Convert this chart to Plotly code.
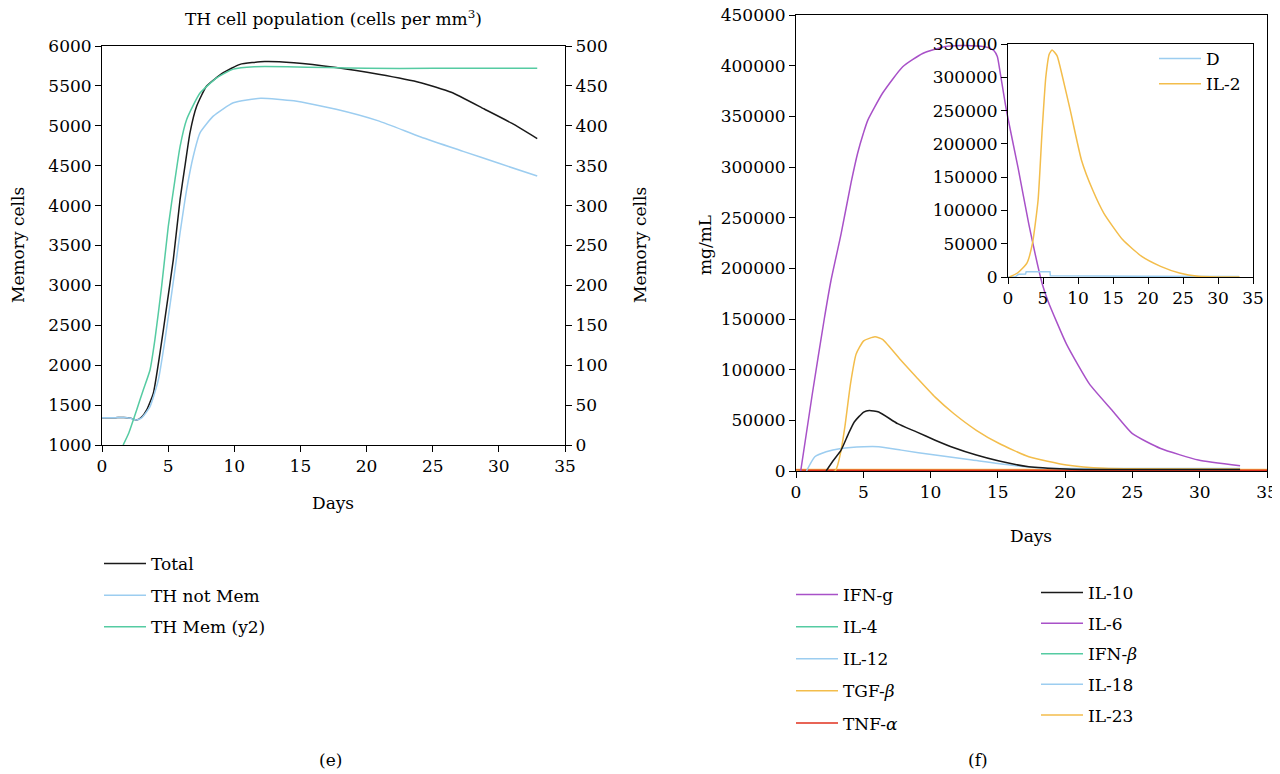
import plotly.graph_objects as go

# ---- panel (e): TH cell population ----
total_days = [0, 1.0, 1.9, 2.1, 2.3, 2.62, 3.0, 3.38, 3.88, 4.38, 4.89, 5.39, 5.9, 6.27, 6.65, 7.16, 7.91,
              9.17, 10.43, 12.3, 14.5, 17.7, 20.9, 24.1, 26.4, 28.9, 31.0, 32.9]
total = [1343, 1343, 1343, 1340, 1328, 1314, 1350, 1439, 1649, 2150, 2736, 3322, 4075, 4494, 4912, 5247,
         5498, 5665, 5770, 5805, 5790, 5730, 5645, 5540, 5420, 5210, 5030, 4840]

notmem_days = [0, 1.0, 1.9, 2.1, 2.3, 2.62, 3.0, 3.63, 4.26, 4.76, 5.27, 5.9, 6.4, 6.9, 7.41, 8.41, 9.93,
               12.0, 14.5, 17.7, 20.9, 24.1, 27.3, 30.0, 32.9]
notmem = [1343, 1343, 1343, 1338, 1325, 1314, 1340, 1481, 1816, 2318, 2904, 3657, 4201, 4619, 4912, 5121,
          5289, 5345, 5313, 5208, 5062, 4860, 4680, 4530, 4370]

mem_days = [1.6, 2.0, 2.62, 3.1, 3.63, 4.0, 4.51, 5.01, 5.52, 5.9, 6.4, 7.41, 8.67, 9.93, 11.5, 14, 17,
            20, 25, 30, 32.9]
mem = [0, 14, 44, 68, 94, 132, 199, 274, 333, 374, 408, 441, 460, 471, 474, 474, 473, 472, 472, 472, 472]

# ---- panel (f): cytokines ----
ifng_days = [0.35, 1.2, 2.1, 2.6, 3.35, 4.1, 4.58, 5.0, 5.33, 6.44, 7.93, 9.41, 11.1, 12.3, 13.5, 14.26,
             14.7, 14.96, 15.2, 15.65, 16.5, 17.3, 18.3, 18.73, 20.1, 21.8, 23.5, 25.0, 27.1, 29.9, 33.0]
ifng = [0, 75000, 150000, 188000, 234000, 285000, 313600, 333000, 346000, 373000, 399000, 412000, 419000,
        420000, 419500, 418000, 415000, 409000, 391000, 355000, 299300, 243600, 184600, 167600, 125200,
        86000, 59800, 36900, 22200, 10800, 5200]

il10_days = [2.24, 2.8, 3.35, 3.9, 4.33, 5.03, 5.45, 6.15, 7.55, 8.95, 10.34, 11.74, 13.4, 15.1, 17.3,
             20.1, 22, 33]
il10 = [0, 10800, 20600, 36900, 48400, 58200, 59800, 58200, 46700, 38600, 30400, 22900, 15700, 9800,
        4200, 2000, 1500, 1500]

tgfb_days = [0, 2.9, 3.35, 3.63, 4.05, 4.47, 5.03, 5.87, 6.43, 7.83, 8.95, 10.34, 11.74, 13.4, 15.1,
             17.3, 20.1, 22.9, 33]
tgfb = [0, 0, 20600, 43500, 86000, 115400, 128400, 132400, 130000, 108800, 92500, 72900, 56500, 40200,
        27100, 14000, 5900, 2600, 2000]

il12_days = [0.78, 1.4, 2.24, 3.35, 5.03, 6.15, 7.83, 10.34, 13.1, 15.9, 18.7, 22, 33]
il12 = [0, 14000, 19000, 22200, 23900, 23900, 20600, 15700, 10800, 5900, 2600, 2500, 2500]

flat_days = [0, 35]
il4 = [0, 0]
tnfa = [800, 800]
il6 = [0, 0]
ifnb = [0, 0]
il18 = [0, 0]
il23 = [1500, 1500]

# inset
il2_days = [0.2, 1.35, 2.7, 3.5, 4.3, 4.85, 5.4, 5.9, 6.3, 7.0, 7.8, 8.9, 10.5, 12.1, 13.7, 16.4, 19.1,
            21.8, 24.5, 27.2, 29.9, 33.1]
il2 = [0, 6000, 20900, 50800, 115700, 215400, 300100, 335000, 341000, 332500, 300000, 250200, 175500,
       130600, 95700, 55800, 30900, 16000, 6000, 1000, 0, 0]
d_days = [0, 1.0, 1.5, 2.2, 2.5, 2.6, 6.0, 6.05, 10, 20, 33]
d_vals = [0, 0, 4000, 4500, 4500, 8000, 8000, 2000, 1500, 1000, 800]

BLACK = '#1a1a1a'
LBLUE = '#9ccdf0'
GREEN = '#55cba2'
PURPLE = '#a851c8'
YELLOW = '#f3bd4b'
RED = '#e0301e'
FONT = 'DejaVu Serif'
FS = 17

# page has an 8px body margin, so the figure is a bit smaller and coords shifted
OFF = 8
W, H = 1280 - OFF, 774 - OFF


def px(x):
    return (x - OFF) / W


def py(y):
    return 1 - (y - OFF) / H


fig = go.Figure()


def add(x, y, name, color, xa, ya, legend, rank, shape='spline'):
    fig.add_trace(go.Scatter(x=x, y=y, name=name, mode='lines',
                             line=dict(color=color, width=1.5, shape=shape, smoothing=0.5),
                             xaxis=xa, yaxis=ya, legend=legend, legendgroup=name, legendrank=rank))


add(total_days, total, 'Total', BLACK, 'x', 'y', 'legend', 1)
add(notmem_days, notmem, 'TH not Mem', LBLUE, 'x', 'y', 'legend', 2)
add(mem_days, mem, 'TH Mem (y2)', GREEN, 'x', 'y2', 'legend', 3)

add(flat_days, il4, 'IL-4', GREEN, 'x2', 'y3', 'legend2', 2, 'linear')
add(flat_days, il6, 'IL-6', PURPLE, 'x2', 'y3', 'legend3', 2, 'linear')
add(flat_days, ifnb, 'IFN-<i>β</i>', GREEN, 'x2', 'y3', 'legend3', 3, 'linear')
add(flat_days, il18, 'IL-18', LBLUE, 'x2', 'y3', 'legend3', 4, 'linear')
add(flat_days, il23, 'IL-23', YELLOW, 'x2', 'y3', 'legend3', 5, 'linear')
add(flat_days, tnfa, 'TNF-<i>α</i>', RED, 'x2', 'y3', 'legend2', 5, 'linear')
add(il12_days, il12, 'IL-12', LBLUE, 'x2', 'y3', 'legend2', 3)
add(tgfb_days, tgfb, 'TGF-<i>β</i>', YELLOW, 'x2', 'y3', 'legend2', 4)
add(il10_days, il10, 'IL-10', BLACK, 'x2', 'y3', 'legend3', 1)
add(ifng_days, ifng, 'IFN-g', PURPLE, 'x2', 'y3', 'legend2', 1)

add(d_days, d_vals, 'D', LBLUE, 'x3', 'y4', 'legend4', 1, 'linear')
add(il2_days, il2, 'IL-2', YELLOW, 'x3', 'y4', 'legend4', 2)

ax = dict(showline=True, linecolor='black', linewidth=1, ticks='outside', ticklen=6, tickcolor='black',
          showgrid=False, zeroline=False, automargin=False, tickformat='d', ticklabeloverflow='allow',
          tickfont=dict(family=FONT, size=FS, color='black'))

leg = dict(font=dict(family=FONT, size=FS, color='black'), bgcolor='rgba(0,0,0,0)',
           xanchor='left', yanchor='top', tracegroupgap=6.5, traceorder='grouped', itemwidth=42)

fig.update_layout(
    template='none',
    width=W, height=H, margin=dict(l=0, r=0, t=0, b=0, pad=0), autosize=False,
    paper_bgcolor='white', plot_bgcolor='rgba(0,0,0,0)',
    font=dict(family=FONT, size=FS, color='black'),
    xaxis=dict(ax, domain=[px(102), px(565)], range=[0, 35], dtick=5, anchor='y', mirror=True),
    yaxis=dict(ax, domain=[py(445), py(46)], range=[1000, 6000], dtick=500, anchor='x', mirror=True),
    yaxis2=dict(ax, overlaying='y', side='right', range=[0, 500], dtick=50, anchor='x'),
    xaxis2=dict(ax, domain=[px(796), px(1267)], range=[0, 35], dtick=5, anchor='y3', mirror=True),
    yaxis3=dict(ax, domain=[py(471), py(15)], range=[0, 450000], dtick=50000, anchor='x2', mirror=True),
    xaxis3=dict(ax, domain=[px(1008), px(1253)], range=[0, 35], dtick=5, anchor='y4', mirror=True),
    yaxis4=dict(ax, domain=[py(277), py(44)], range=[0, 350000], dtick=50000, anchor='x3', mirror=True),
    legend=dict(leg, x=px(99), y=py(546)),
    legend2=dict(leg, x=px(791), y=py(577), tracegroupgap=7),
    legend3=dict(leg, x=px(1036), y=py(575), tracegroupgap=5.5),
    legend4=dict(leg, x=px(1154), y=py(41), tracegroupgap=0),
    showlegend=True,
)

notes = [
    (333, 18, 'TH cell population (cells per mm<sup>3</sup>)', 0),
    (333, 503, 'Days', 0),
    (18, 245, 'Memory cells', -90),
    (640, 245, 'Memory cells', -90),
    (1031, 536, 'Days', 0),
    (705, 245, 'mg/mL', -90),
    (330, 760, '(e)', 0),
    (978, 760, '(f)', 0),
]
for x, y, t, ang in notes:
    fig.add_annotation(x=px(x), y=py(y), xref='paper', yref='paper', text=t, showarrow=False,
                       textangle=ang, xanchor='center', yanchor='middle',
                       font=dict(family=FONT, size=FS, color='black'))

fig.write_html("out.html")
